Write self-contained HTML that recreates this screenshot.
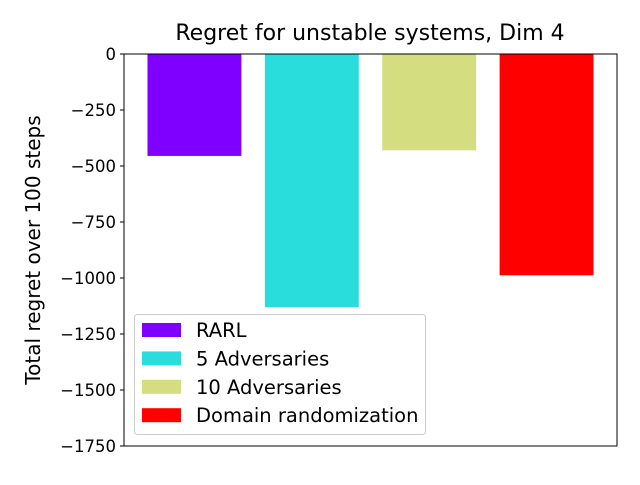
<!DOCTYPE html>
<html><head><meta charset="utf-8"><style>
body{margin:0;background:#fff}
svg text{font-family:"DejaVu Sans","Liberation Sans",sans-serif;fill:#000}
</style></head><body>
<svg id="c" width="640" height="480"></svg>
<script>
const categories=["RARL","5 Adversaries","10 Adversaries","Domain randomization"];
const values=[-455,-1130,-430,-988];
const colors=["#8000ff","#2adddd","#d4de81","#ff0000"];
const yTicks=[0,-250,-500,-750,-1000,-1250,-1500,-1750];
const yTickLabels=["0","\u2212250","\u2212500","\u2212750","\u22121000","\u22121250","\u22121500","\u22121750"];
const NS="http://www.w3.org/2000/svg";
const svg=document.getElementById('c');
const L=124,R=617,T=54,B=446;
const y=v=>T+(0-v)/1750*(B-T);
const x=i=>L+(i+0.6)/4.2*(R-L);
function mk(t,a,p){const e=document.createElementNS(NS,t);for(const k in a)e.setAttribute(k,a[k]);(p||svg).appendChild(e);return e;}
values.forEach((v,i)=>{
 const w=0.8/4.2*(R-L);
 const r=mk('rect',{x:x(i)-w/2,y:y(0),width:w,height:y(v)-y(0),fill:colors[i]});
 
 
});
const ax=mk('rect',{x:L,y:T,width:R-L,height:B-T,fill:'none',stroke:'#000','stroke-width':1});


yTicks.forEach((v,i)=>{
 mk('line',{x1:L-4,x2:L,y1:y(v),y2:y(v),stroke:'#000'});
 const t=mk('text',{x:L-8,y:y(v)+6,'text-anchor':'end','font-size':16.5});
 t.textContent=yTickLabels[i];
 
 
});
const title=mk('text',{x:370,y:40,'text-anchor':'middle','font-size':22});
title.textContent="Regret for unstable systems, Dim 4";


const yl=mk('text',{x:0,y:0,'text-anchor':'middle','font-size':20,transform:'translate(40,250) rotate(-90)'});
yl.textContent="Total regret over 100 steps";


const lg=mk('g',{});


mk('rect',{x:134.5,y:314.5,width:291,height:120,rx:3,fill:'#fff','fill-opacity':0.8,stroke:'#ccc'},lg);
categories.forEach((c,i)=>{
 const yy=330+i*28.4;
 const p=mk('rect',{x:142,y:yy-7,width:39,height:14,fill:colors[i]},lg);
 
 
 const t=mk('text',{x:196,y:yy+7,'font-size':19.5},lg);
 t.textContent=c;
 
 
});
</script>
</body></html>
